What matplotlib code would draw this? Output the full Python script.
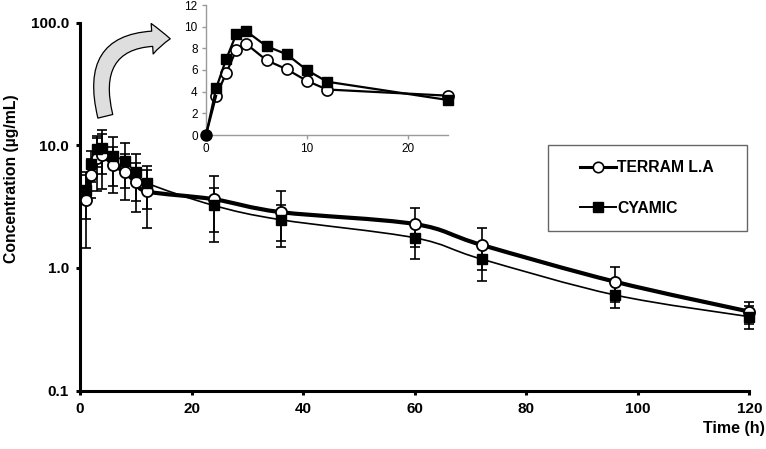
import numpy as np
import matplotlib
matplotlib.use("Agg")
import matplotlib.pyplot as plt
from matplotlib.path import Path
from matplotlib.patches import PathPatch, FancyArrowPatch, Rectangle
from matplotlib.lines import Line2D

plt.rcParams['font.family'] = ['Liberation Sans', 'DejaVu Sans']

# data (time in h, concentration in ug/mL)
times = [0, 1, 2, 3, 4, 6, 8, 10, 12, 24, 36, 60, 72, 96, 120]
terram = [0, 3.6, 5.7, 7.85, 8.4, 6.9, 6.07, 5.0, 4.2, 3.63, 2.85, 2.28, 1.54, 0.77, 0.44]
cyamic = [0, 4.3, 7.0, 9.3, 9.57, 8.2, 7.45, 6.0, 4.92, 3.23, 2.47, 1.76, 1.18, 0.60, 0.40]
terram_sd = [0, 2.15, 2.0, 3.6, 4.0, 2.8, 2.5, 2.15, 2.1, 2.0, 1.38, 0.8, 0.57, 0.24, 0.09]
cyamic_sd = [0, 1.8, 2.0, 2.6, 3.7, 3.5, 3.0, 2.5, 1.9, 1.27, 0.8, 0.58, 0.4, 0.13, 0.085]
labels = ['TERRAM L.A', 'CYAMIC']
inset_max_t = 24

W, H = 766, 449


# Excel-like smoothed line (bezier through the points, in x / log10(y) space)
def smooth_path(x, y):
    lx = np.asarray(x, float)
    ly = np.log10(np.asarray(y, float))
    n = len(lx)
    verts = [(lx[0], ly[0])]
    codes = [Path.MOVETO]
    for i in range(n - 1):
        a = i - 1 if i > 0 else i
        b = i + 2 if i + 2 < n else i + 1
        c1x = lx[i] + (lx[i + 1] - lx[a]) / 6
        c1y = ly[i] + (ly[i + 1] - ly[a]) / 6
        c2x = lx[i + 1] - (lx[b] - lx[i]) / 6
        c2y = ly[i + 1] - (ly[b] - ly[i]) / 6
        c1x = min(max(c1x, lx[i]), lx[i + 1])
        c2x = min(max(c2x, lx[i]), lx[i + 1])
        verts += [(c1x, c1y), (c2x, c2y), (lx[i + 1], ly[i + 1])]
        codes += [Path.CURVE4] * 3
    verts = [(vx, 10 ** vy) for vx, vy in verts]
    return Path(verts, codes)


fig = plt.figure(figsize=(W / 100, H / 100), dpi=100)
ax = fig.add_axes([80 / W, 1 - 390.5 / H, 669.3 / W, 367.8 / H])

t_main = times[1:]
for vals, sd, lw, z in [(terram, terram_sd, 3.0, 3), (cyamic, cyamic_sd, 1.2, 4)]:
    ax.add_patch(PathPatch(smooth_path(t_main, vals[1:]), fill=False,
                           edgecolor='black', lw=lw, zorder=z, capstyle='round'))
    ax.errorbar(t_main, vals[1:], yerr=sd[1:], fmt='none', ecolor='black',
                elinewidth=1.2, capsize=3.5, capthick=1.2, zorder=2, clip_on=False)

ax.plot(t_main, terram[1:], 'o', ms=8, mfc='white', mec='black', mew=1.3,
        zorder=5, clip_on=False)
ax.plot(t_main, cyamic[1:], 's', ms=7, mfc='black', mec='black',
        zorder=6, clip_on=False)

ax.set_yscale('log')
ax.set_xlim(0, 120)
ax.set_ylim(0.1, 100)
ax.set_xticks([0, 20, 40, 60, 80, 100, 120])
ax.set_yticks([0.1, 1, 10, 100])
ax.set_yticklabels(['0.1', '1.0', '10.0', '100.0'])
ax.yaxis.set_minor_locator(matplotlib.ticker.NullLocator())
for s in ['top', 'right']:
    ax.spines[s].set_visible(False)
for s in ['left', 'bottom']:
    ax.spines[s].set_linewidth(2.2)
ax.tick_params(axis='both', which='major', length=3, width=2.2, pad=5,
               labelsize=11)
for lab in ax.get_xticklabels() + ax.get_yticklabels():
    lab.set_fontweight('bold')
ax.patch.set_alpha(0)

fig.text(12 / W, 1 - 179 / H, 'Concentration (µg/mL)', rotation=90,
         ha='center', va='center', fontsize=11.3, fontweight='bold')
fig.text(765 / W, 1 - 428 / H, 'Time (h)', ha='right', va='center',
         fontsize=11.5, fontweight='bold')

# inset with the first 24 h on a linear scale
axi = fig.add_axes([206 / W, 1 - 135 / H, 242 / W, 130 / H])
n_in = sum(1 for t in times if t <= inset_max_t)
axi.plot(times[1:n_in], terram[1:n_in], '-o', color='black', lw=1.6, ms=8,
         mfc='white', mec='black', mew=1.2, zorder=3, clip_on=False)
axi.plot(times[1:n_in], cyamic[1:n_in], '-s', color='black', lw=1.6, ms=6.5,
         mfc='black', zorder=4, clip_on=False)
axi.plot([times[0], times[1]], [terram[0], terram[1]], '-', color='black', lw=1.6, zorder=3)
axi.plot([times[0], times[1]], [cyamic[0], cyamic[1]], '-', color='black', lw=1.6, zorder=3)
axi.plot([times[0]], [cyamic[0]], 'o', ms=8, color='black', zorder=6, clip_on=False)
axi.set_xlim(0, inset_max_t)
axi.set_ylim(0, 12)
axi.set_xticks([0, 10, 20])
axi.set_yticks(range(0, 13, 2))
for s in ['top', 'right']:
    axi.spines[s].set_visible(False)
for s in ['left', 'bottom']:
    axi.spines[s].set_color('#9a9a9a')
    axi.spines[s].set_linewidth(1.0)
axi.tick_params(axis='both', length=3, width=1.0, color='#9a9a9a', pad=3,
                labelsize=8.5)
axi.patch.set_alpha(0)

# curved arrow pointing to the inset
arrow = FancyArrowPatch((106 / W, 1 - 119 / H), (173 / W, 1 - 39 / H),
                        transform=fig.transFigure,
                        connectionstyle='arc3,rad=-0.7',
                        arrowstyle='simple,head_width=22,head_length=13,tail_width=11',
                        mutation_scale=1, facecolor='#dedede', edgecolor='black',
                        lw=0.9, zorder=10)
fig.patches.append(arrow)

# legend box
fig.patches.append(Rectangle((548 / W, 1 - 231 / H), 199 / W, 86 / H,
                             transform=fig.transFigure, fill=False,
                             edgecolor='#666666', lw=1.0))
handles = [Line2D([], [], color='black', lw=2.2, marker='o', ms=7.5, mfc='white',
                  mec='black', mew=1.2),
           Line2D([], [], color='black', lw=1.4, marker='s', ms=7, mfc='black')]
fig.legend(handles, labels, loc='center', bbox_to_anchor=(647 / W, 1 - 188 / H),
           frameon=False, prop={'weight': 'bold', 'size': 11.3},
           handlelength=2.3, handletextpad=0.1, labelspacing=1.6)

fig.savefig('out.png', dpi=100)
